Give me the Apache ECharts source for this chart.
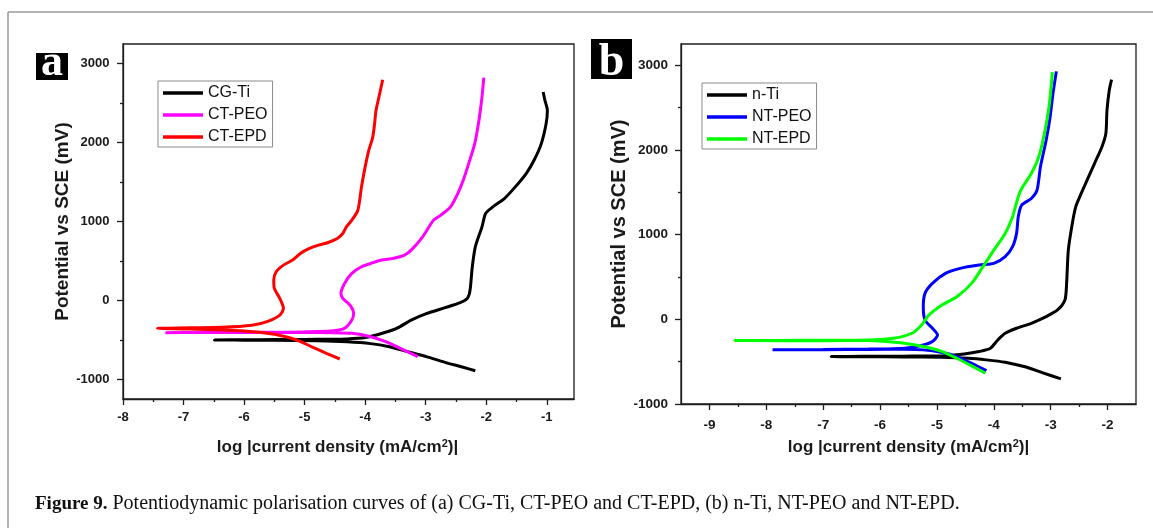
<!DOCTYPE html>
<html>
<head>
<meta charset="utf-8">
<script src="https://cdn.jsdelivr.net/npm/echarts@6/dist/echarts.min.js"></script>
<style>
html,body{margin:0;padding:0;background:#fff;}
#chart{width:1153px;height:528px;}
</style>
</head>
<body>
<div id="chart"></div>
<script>
// ---------- Panel (a) data ----------
const cgTiLogI = [-2.18,-2.38,-2.68,-2.99,-3.30,-3.60,-3.91,-4.3,-4.8,-5.5,-6.0,-6.49,-6.0,-5.5,-5.0,-4.6,-4.3,-4.0,-3.73,-3.48,-3.24,-2.99,-2.68,-2.44,-2.32,-2.28,-2.26,-2.23,-2.18,-2.07,-2.01,-1.89,-1.70,-1.52,-1.34,-1.21,-1.09,-1.01,-0.99,-1.03,-1.06];
const cgTiE    = [-892,-848,-785,-713,-650,-588,-548,-525,-512,-506,-504,-502,-499,-497,-495,-492,-488,-470,-420,-355,-250,-168,-92,-32,20,80,173,426,679,932,1101,1186,1291,1439,1608,1776,1987,2241,2409,2536,2641];

const ctPeoLogI = [-3.13,-3.42,-3.66,-3.91,-4.22,-4.52,-5.13,-6.0,-6.8,-7.30,-6.8,-6.0,-5.13,-4.52,-4.34,-4.22,-4.19,-4.25,-4.37,-4.40,-4.34,-4.22,-4.06,-3.91,-3.73,-3.54,-3.35,-3.24,-3.05,-2.87,-2.75,-2.59,-2.47,-2.38,-2.29,-2.19,-2.12,-2.07,-2.04];
const ctPeoE    = [-713,-608,-523,-460,-418,-409,-405,-407,-408,-409,-406,-404,-400,-384,-354,-249,-165,-59,25,89,215,342,426,468,511,532,574,637,806,1017,1080,1186,1354,1523,1734,1987,2283,2578,2823];

const ctEpdLogI = [-4.42,-4.64,-4.89,-5.13,-5.44,-5.75,-6.05,-6.36,-6.9,-7.43,-6.9,-6.36,-5.87,-5.62,-5.41,-5.35,-5.41,-5.50,-5.51,-5.47,-5.35,-5.20,-5.07,-4.92,-4.77,-4.61,-4.46,-4.37,-4.31,-4.22,-4.12,-4.06,-4.00,-3.94,-3.88,-3.85,-3.82,-3.76,-3.71];
const ctEpdE    = [-743,-671,-586,-502,-439,-405,-384,-376,-362,-354,-348,-342,-316,-270,-186,-101,25,152,257,363,447,511,595,658,700,734,785,848,932,1017,1143,1439,1692,1903,2051,2198,2409,2620,2797];

// ---------- Panel (b) data ----------
const nTiLogI = [-2.82,-3.15,-3.47,-3.80,-4.13,-4.45,-4.91,-5.6,-6.3,-6.86,-6.3,-5.6,-4.91,-4.52,-4.26,-4.06,-3.93,-3.80,-3.60,-3.34,-3.08,-2.88,-2.75,-2.72,-2.69,-2.62,-2.56,-2.49,-2.36,-2.23,-2.10,-2.03,-2.01,-1.97,-1.93];
const nTiE    = [-703,-629,-558,-507,-479,-460,-448,-444,-442,-440,-437,-435,-432,-409,-381,-342,-244,-165,-106,-47,31,110,228,424,817,1132,1328,1446,1642,1839,2035,2193,2468,2703,2829];

const ntPeoLogI = [-4.13,-4.39,-4.65,-4.91,-5.24,-5.57,-6.2,-7.0,-7.89,-7.0,-6.2,-5.57,-5.24,-5.08,-4.99,-5.08,-5.21,-5.24,-5.21,-5.08,-4.85,-4.59,-4.26,-4.00,-3.80,-3.67,-3.60,-3.57,-3.51,-3.34,-3.24,-3.18,-3.08,-3.01,-2.96,-2.90];
const ntPeoE    = [-605,-519,-440,-393,-361,-354,-356,-359,-361,-357,-352,-342,-303,-263,-185,-106,-8,149,306,424,542,601,640,660,739,857,1014,1210,1348,1426,1525,1800,2114,2389,2664,2927];

const ntEpdLogI = [-4.15,-4.39,-4.65,-4.91,-5.24,-5.57,-5.90,-6.22,-7.0,-7.8,-8.56,-7.8,-7.0,-6.22,-5.76,-5.44,-5.27,-5.14,-4.91,-4.65,-4.39,-4.19,-4.00,-3.80,-3.67,-3.57,-3.51,-3.34,-3.21,-3.11,-3.03,-2.97];
const ntEpdE    = [-637,-550,-460,-381,-322,-283,-263,-251,-252,-252,-251,-249,-248,-244,-224,-165,-67,51,169,267,424,621,817,1014,1210,1446,1544,1721,1917,2193,2507,2919];

// ---------- Tick labels ----------
const xTicksA = [-8,-7,-6,-5,-4,-3,-2,-1];
const xMinorA = [-7.5,-6.5,-5.5,-4.5,-3.5,-2.5,-1.5];
const yTicksA = [-1000,0,1000,2000,3000];
const yMinorA = [-500,500,1500,2500];
const xTicksB = [-9,-8,-7,-6,-5,-4,-3,-2];
const xMinorB = [-8.5,-7.5,-6.5,-5.5,-4.5,-3.5,-2.5];
const yTicksB = [-1000,0,1000,2000,3000];
const yMinorB = [-500,500,1500,2500];

const namesA = ['CG-Ti','CT-PEO','CT-EPD'];
const namesB = ['n-Ti','NT-PEO','NT-EPD'];
const caption = 'Potentiodynamic polarisation curves of (a) CG-Ti, CT-PEO and CT-EPD, (b) n-Ti, NT-PEO and NT-EPD.';

function zip(xs, ys){ return xs.map((x,i)=>[x, ys[i]]); }

const SANS = '"Liberation Sans", Arial, sans-serif';
const SERIF = '"Liberation Serif", "Times New Roman", serif';
const AX = '#1e1e1e';

function mainX(grid, min, max, ticks, lblSize, margin, nameGap, namePad){
  return {
    type:'value', gridIndex:grid, min:min, max:max, position:'bottom',
    axisLine:{show:true, onZero:false, lineStyle:{color:AX, width:1.3}},
    axisTick:{show:true, customValues:ticks, length:6, lineStyle:{color:AX, width:1.3}},
    axisLabel:{show:true, customValues:ticks, margin:margin, fontFamily:SANS, fontWeight:'bold', fontSize:lblSize, color:'#1a1a1a', formatter:v=>String(v)},
    splitLine:{show:false},
    name:'log |current density (mA/cm{sup|2})|', nameLocation:'middle', nameGap:nameGap,
    nameTextStyle:{fontFamily:SANS, fontWeight:'bold', fontSize:17, color:'#1a1a1a', padding:namePad,
      rich:{sup:{fontFamily:SANS, fontWeight:'bold', fontSize:11, color:'#1a1a1a', verticalAlign:'bottom', padding:[0,0,8,0]}}}
  };
}
function minorX(grid, min, max, ticks){
  return {
    type:'value', gridIndex:grid, min:min, max:max, position:'bottom',
    axisLine:{show:false, onZero:false},
    axisTick:{show:true, customValues:ticks, length:3, lineStyle:{color:AX, width:1.3}},
    axisLabel:{show:false}, splitLine:{show:false}
  };
}
function mainY(grid, min, max, ticks, lblSize, margin, nameGap, nameSize){
  return {
    type:'value', gridIndex:grid, min:min, max:max, position:'left',
    axisLine:{show:true, onZero:false, lineStyle:{color:AX, width:1.3}},
    axisTick:{show:true, customValues:ticks, length:6, lineStyle:{color:AX, width:1.3}},
    axisLabel:{show:true, customValues:ticks, margin:margin, fontFamily:SANS, fontWeight:'bold', fontSize:lblSize, color:'#1a1a1a', formatter:v=>String(v)},
    splitLine:{show:false},
    name:'Potential vs SCE (mV)', nameLocation:'middle', nameGap:nameGap,
    nameTextStyle:{fontFamily:SANS, fontWeight:'bold', fontSize:nameSize, color:'#1a1a1a'}
  };
}
function minorY(grid, min, max, ticks){
  return {
    type:'value', gridIndex:grid, min:min, max:max, position:'left',
    axisLine:{show:false, onZero:false},
    axisTick:{show:true, customValues:ticks, length:3, lineStyle:{color:AX, width:1.3}},
    axisLabel:{show:false}, splitLine:{show:false}
  };
}
function ser(name, xi, yi, xs, ys, color){
  return {
    type:'line', name:name, xAxisIndex:xi, yAxisIndex:yi, data:zip(xs, ys),
    showSymbol:false, symbol:'none', smooth:0.25, clip:true,
    lineStyle:{color:color, width:3}, itemStyle:{color:color}, z:3
  };
}
function legend(names, left, top){
  return {
    data:names, orient:'vertical', left:left, top:top, icon:'rect',
    itemWidth:40, itemHeight:3.5, itemGap:4,
    padding:[3,5,1,5], borderColor:'#8a8a8a', borderWidth:1, backgroundColor:'#fff',
    textStyle:{fontFamily:SANS, fontSize:16, color:'#111', lineHeight:18},
    selectedMode:false
  };
}

const chart = echarts.init(document.getElementById('chart'), null, {renderer:'canvas'});
chart.setOption({
  backgroundColor:'#fff',
  animation:false,
  grid:[
    {left:123, top:44, width:451, height:355, show:true, borderColor:AX, borderWidth:1.3},
    {left:681, top:44, width:455, height:360, show:true, borderColor:AX, borderWidth:1.3}
  ],
  xAxis:[
    mainX(0, -8, -0.55, xTicksA, 13, 12, 39, [0,22,0,0]),
    minorX(0, -8, -0.55, xMinorA),
    mainX(1, -9.5, -1.5, xTicksB, 13.5, 14, 34, [0,0,0,0]),
    minorX(1, -9.5, -1.5, xMinorB)
  ],
  yAxis:[
    mainY(0, -1250, 3250, yTicksA, 13, 13.5, 50, 19),
    minorY(0, -1250, 3250, yMinorA),
    mainY(1, -1000, 3250, yTicksB, 13.5, 13, 52, 20),
    minorY(1, -1000, 3250, yMinorB)
  ],
  legend:[ legend(namesA, 158, 81), legend(namesB, 702, 83) ],
  series:[
    ser(namesA[0], 0, 0, cgTiLogI, cgTiE, '#000000'),
    ser(namesA[1], 0, 0, ctPeoLogI, ctPeoE, '#ff00ff'),
    ser(namesA[2], 0, 0, ctEpdLogI, ctEpdE, '#ff0000'),
    ser(namesB[0], 2, 2, nTiLogI, nTiE, '#000000'),
    ser(namesB[1], 2, 2, ntPeoLogI, ntPeoE, '#0000ff'),
    ser(namesB[2], 2, 2, ntEpdLogI, ntEpdE, '#00ff00')
  ],
  graphic:[
    {type:'line', shape:{x1:8, y1:12, x2:1153, y2:12}, style:{stroke:'#999', lineWidth:1.5}, silent:true},
    {type:'line', shape:{x1:8, y1:12, x2:8, y2:528}, style:{stroke:'#999', lineWidth:1.5}, silent:true},
    {type:'rect', shape:{x:36, y:53, width:32, height:27}, style:{fill:'#000'}, silent:true},
    {type:'text', x:52, y:64, style:{text:'a', fill:'#fff', font:'bold 44px ' + SERIF, align:'center', verticalAlign:'middle'}, silent:true},
    {type:'rect', shape:{x:591, y:39, width:41, height:40}, style:{fill:'#000'}, silent:true},
    {type:'text', x:611.5, y:63, style:{text:'b', fill:'#fff', font:'bold 46px ' + SERIF, align:'center', verticalAlign:'middle'}, silent:true},
    {type:'text', x:35, y:504, style:{
      text:'{b|Figure 9.} ' + caption,
      font:'20px ' + SERIF, fill:'#111', verticalAlign:'middle',
      rich:{b:{font:'bold 19px ' + SERIF, fill:'#111'}}
    }, silent:true}
  ]
});
</script>
</body>
</html>
